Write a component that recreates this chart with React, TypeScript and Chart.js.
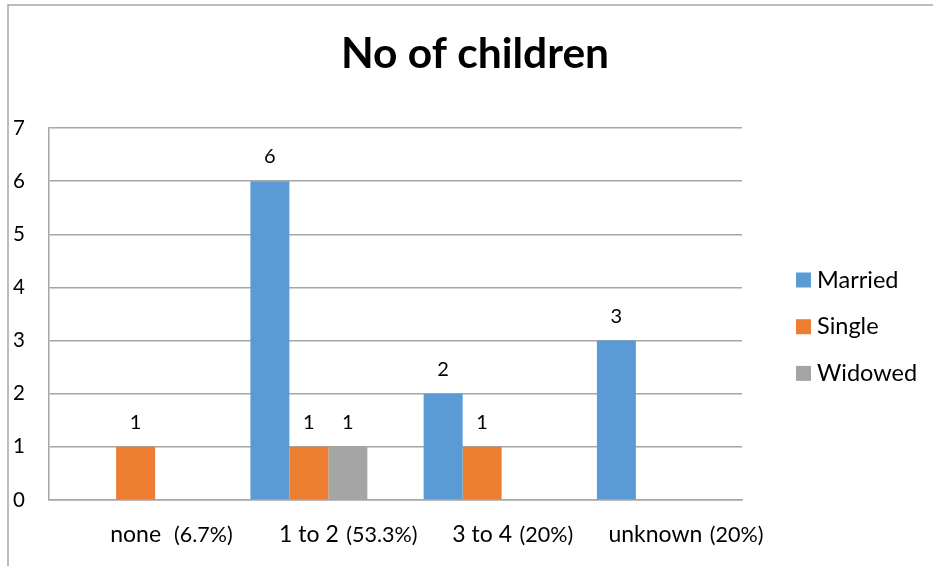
import { useEffect, useRef } from "react";
import { Chart, registerables } from "chart.js";

Chart.register(...registerables);

// Number of children, grouped by marital status
const categories = ["none", "1 to 2", "3 to 4", "unknown"];
const shares = ["  (6.7%)", " (53.3%)", " (20%)", " (20%)"];
const married: (number | null)[] = [null, 6, 2, 3];
const single: (number | null)[] = [1, 1, 1, null];
const widowed: (number | null)[] = [null, 1, null, null];
const yTicks = [0, 1, 2, 3, 4, 5, 6, 7];

const seriesNames = ["Married", "Single", "Widowed"];
const seriesColors = ["#5B9BD5", "#ED7D31", "#A5A5A5"];

const FONT = "Lato, 'Noto Sans', sans-serif";
const GRID = "#a6a6a6";
const TITLE = "No of children";

const decorations = {
  id: "decorations",
  beforeDraw(chart: any) {
    const { ctx, width, height } = chart;
    ctx.save();
    ctx.fillStyle = "#ffffff";
    ctx.fillRect(0, 0, width, height);
    // outer frame of the chart object
    ctx.strokeStyle = GRID;
    ctx.lineWidth = 1.5;
    ctx.beginPath();
    ctx.moveTo(8, height + 5);
    ctx.lineTo(8, 5);
    ctx.lineTo(width + 5, 5);
    ctx.stroke();
    ctx.restore();
  },
  afterDatasetsDraw(chart: any) {
    const { ctx } = chart;
    ctx.save();
    ctx.fillStyle = "#000000";
    ctx.font = `20px ${FONT}`;
    ctx.textAlign = "center";
    ctx.textBaseline = "alphabetic";
    chart.data.datasets.forEach((ds: any, d: number) => {
      const meta = chart.getDatasetMeta(d);
      meta.data.forEach((bar: any, i: number) => {
        const v = ds.data[i];
        if (v === null || v === undefined) return;
        ctx.fillText(String(v), bar.x, bar.y - 18);
      });
    });
    ctx.restore();
  },
  afterDraw(chart: any) {
    const { ctx, chartArea } = chart;
    const xs = chart.scales.x;
    ctx.save();
    ctx.fillStyle = "#000000";

    // title
    ctx.font = `bold 42.5px ${FONT}`;
    ctx.textAlign = "center";
    ctx.textBaseline = "alphabetic";
    ctx.fillText(TITLE, 475, 68);

    // category labels: name centred on the category, share appended
    const baseY = chartArea.bottom + 41.5;
    ctx.textAlign = "left";
    categories.forEach((name, i) => {
      const cx = xs.getPixelForValue(i);
      ctx.font = `23px ${FONT}`;
      const w = ctx.measureText(name).width;
      ctx.fillText(name, cx - w / 2, baseY);
      ctx.font = `21.5px ${FONT}`;
      ctx.fillText(shares[i], cx + w / 2 + 2, baseY);
    });

    // legend
    const lx = chartArea.right + 54;
    const y0 = chartArea.top + 152;
    const step = 46.7;
    chart.data.datasets.forEach((ds: any, d: number) => {
      const cy = y0 + d * step;
      ctx.fillStyle = ds.backgroundColor;
      ctx.fillRect(lx, cy - 7.5, 15, 15);
      ctx.fillStyle = "#000000";
      ctx.font = `23.5px ${FONT}`;
      ctx.fillText(ds.label, lx + 21, cy + 7.5);
    });
    ctx.restore();
  },
};

export default function App() {
  const canvasRef = useRef<HTMLCanvasElement | null>(null);

  useEffect(() => {
    document.body.style.margin = "0";
    const canvas = canvasRef.current;
    if (!canvas) return;
    const chart = new Chart(canvas, {
      type: "bar",
      data: {
        labels: categories,
        datasets: [married, single, widowed].map((values, k) => ({
          label: seriesNames[k],
          data: values,
          backgroundColor: seriesColors[k],
          borderWidth: 0,
          categoryPercentage: 0.675,
          barPercentage: 1,
        })),
      },
      options: {
        responsive: false,
        animation: false,
        events: [],
        layout: { padding: { left: 13, top: 128, right: 191, bottom: 66 } },
        plugins: {
          legend: { display: false },
          title: { display: false },
          tooltip: { enabled: false },
        },
        scales: {
          x: {
            grid: { display: false, drawTicks: false },
            border: { display: true, color: GRID, width: 1.5 },
            ticks: { display: false },
            afterFit: (s: any) => {
              s.height = 0;
            },
          },
          y: {
            min: 0,
            max: 7,
            afterBuildTicks: (s: any) => {
              s.ticks = yTicks.map((v) => ({ value: v }));
            },
            ticks: {
              crossAlign: "far",
              color: "#000000",
              font: { family: FONT, size: 20.5 },
            },
            grid: { color: GRID, lineWidth: 1.5, drawTicks: false },
            border: { display: true, color: GRID, width: 1.5 },
            afterFit: (s: any) => {
              s.width = 36;
            },
          },
        },
      },
      plugins: [decorations],
    } as any);
    return () => chart.destroy();
  }, []);

  return (
    <div style={{ width: 933, height: 566 }}>
      <canvas ref={canvasRef} width={933} height={566} />
    </div>
  );
}
